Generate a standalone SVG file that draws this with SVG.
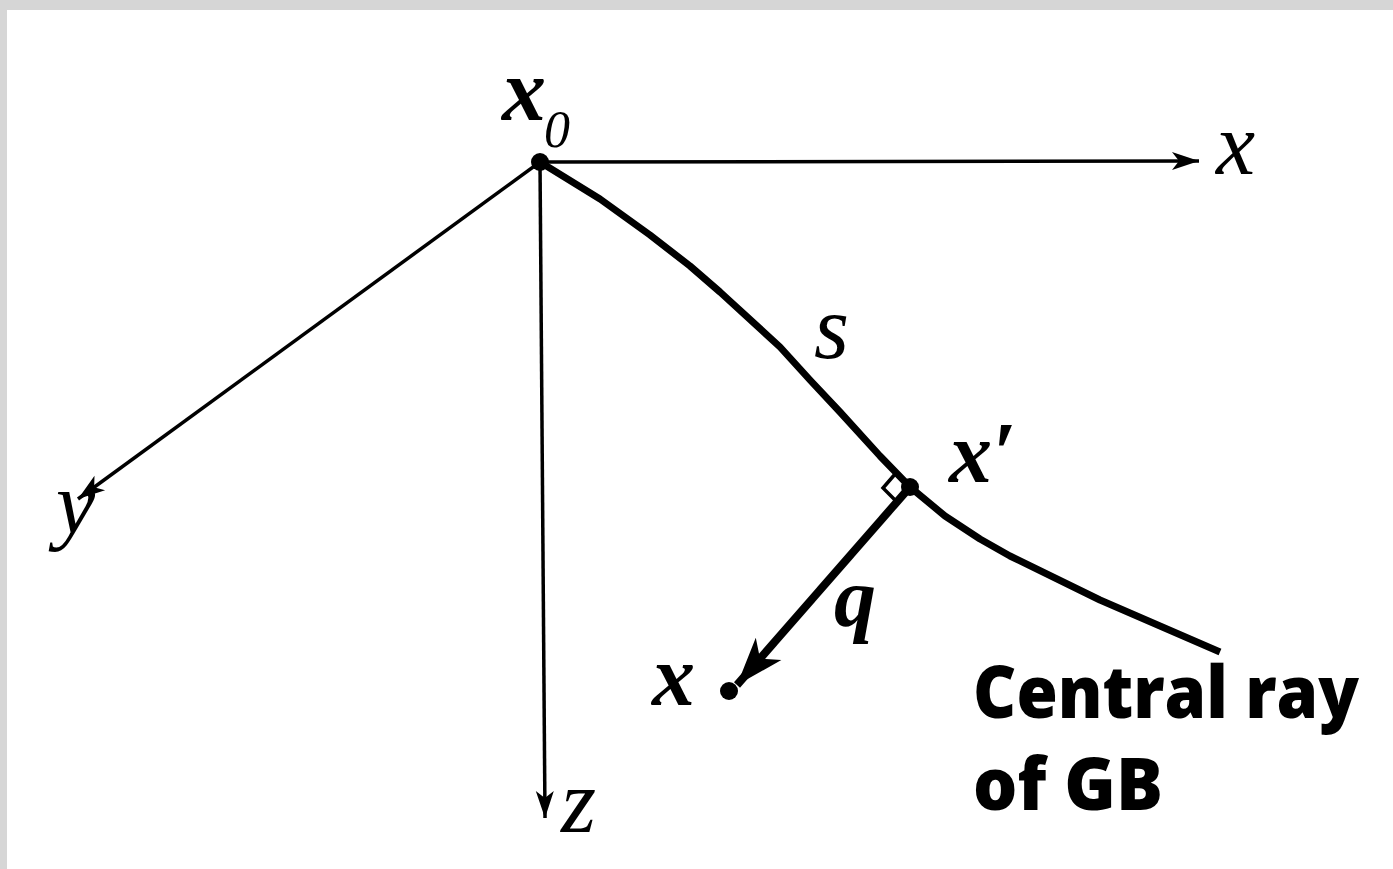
<svg xmlns="http://www.w3.org/2000/svg" width="1393" height="869" viewBox="0 0 1393 869">
<style>
.axis{stroke:#000;stroke-width:3.5;fill:none}
.ti{font-family:"Liberation Serif",serif;font-style:italic;fill:#000}
.tb{font-family:"Liberation Serif",serif;font-style:italic;font-weight:bold;fill:#000}
.lab{font-family:"Open Sans","Liberation Sans",sans-serif;font-weight:800;fill:#000}
</style>
<defs>
<marker id="ah" markerUnits="userSpaceOnUse" markerWidth="40" markerHeight="30" viewBox="-30 -15 40 30" refX="0" refY="0" orient="auto">
<path d="M0,0 L-27,-9 L-20,0 L-27,9 Z" fill="#000"/>
</marker>
<marker id="ahq" markerUnits="userSpaceOnUse" markerWidth="60" markerHeight="50" viewBox="-50 -25 60 50" refX="0" refY="0" orient="auto">
<path d="M0,0 L-48,-17 L-35,0 L-48,17 Z" fill="#000"/>
</marker>
</defs>
<rect x="0" y="0" width="1393" height="869" fill="#d6d6d6"/>
<rect x="7" y="10" width="1386" height="859" fill="#fff"/>
<g id="connectors">
<line class="axis" x1="540" y1="162" x2="1199" y2="161" marker-end="url(#ah)"/>
<line class="axis" x1="540" y1="162" x2="78" y2="499" marker-end="url(#ah)"/>
<line class="axis" x1="540" y1="162" x2="545" y2="818" marker-end="url(#ah)"/>
<path d="M540,162 L600,199 L650,235 L690,266 L720,292 L780,347 L810,380 L840,412 L880,456 L910,487 L945,516 L980,539 L1010,556 L1100,600 L1220,652" fill="none" stroke="#000" stroke-width="7" stroke-linejoin="round"/>
<line x1="910" y1="487" x2="737" y2="685" stroke="#000" stroke-width="8" marker-end="url(#ahq)"/>
<path d="M897,502 L883,488 L896,473" fill="none" stroke="#000" stroke-width="3.5"/>
</g>
<g id="x0">
<circle cx="540" cy="162" r="9" fill="#000"/>
<text class="tb" x="502" y="120" font-size="88">x</text>
<text class="ti" x="544" y="147" font-size="52">0</text>
</g>
<g id="xprime">
<circle cx="910" cy="487" r="9" fill="#000"/>
<text class="tb" x="949" y="482" font-size="86">x′</text>
</g>
<g id="xpoint">
<circle cx="729" cy="691" r="9" fill="#000"/>
<text class="tb" x="652" y="705" font-size="86">x</text>
</g>
<g id="labels">
<text class="ti" x="1216" y="174" font-size="88">x</text>
<text class="ti" x="56" y="533" font-size="88">y</text>
<text class="ti" x="561" y="832" font-size="90">z</text>
<text class="ti" x="814" y="358" font-size="90">s</text>
<text class="tb" x="834" y="626" font-size="84">q</text>
</g>
<g id="caption">
<text class="lab" x="973" y="718" font-size="72" textLength="386" lengthAdjust="spacingAndGlyphs">Central ray</text>
<text class="lab" x="973" y="810" font-size="72" textLength="190" lengthAdjust="spacingAndGlyphs">of GB</text>
</g>
</svg>
